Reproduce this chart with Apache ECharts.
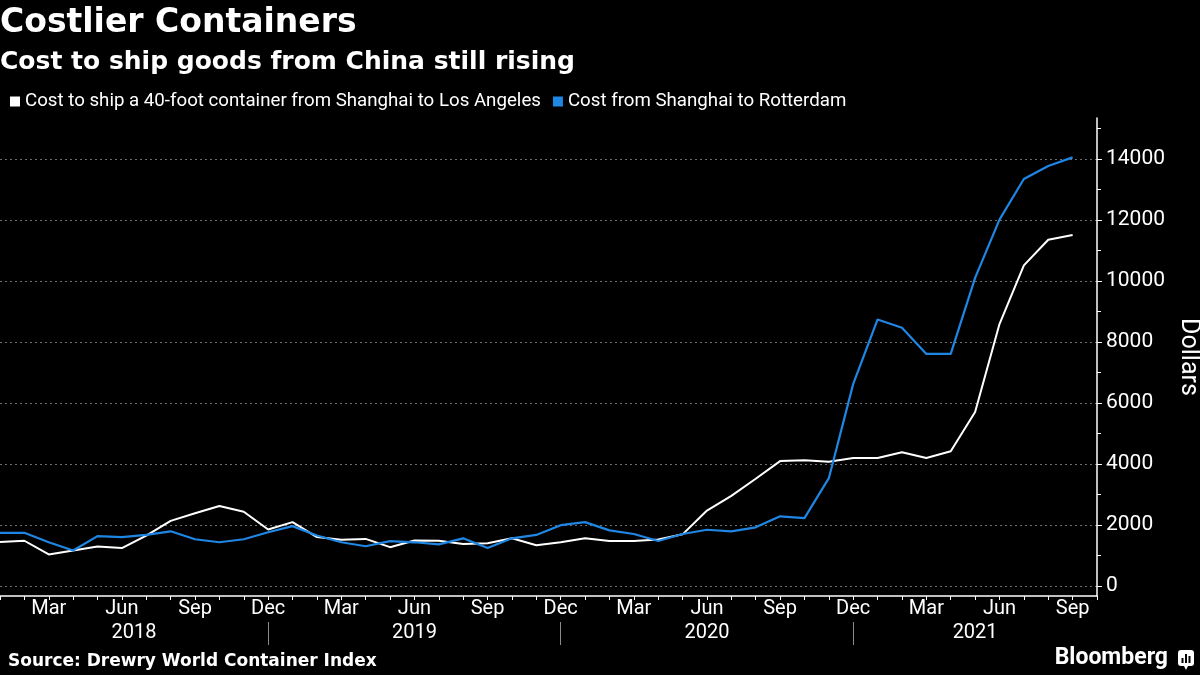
<!DOCTYPE html>
<html>
<head>
<meta charset="utf-8">
<script src="https://cdn.jsdelivr.net/npm/echarts@6/dist/echarts.min.js"></script>
<style>
  html, body { margin: 0; padding: 0; background: #000; }
  #chart { width: 1200px; height: 675px; }
</style>
</head>
<body>
<div id="chart"></div>
<script>
// ---- Data ----
const categories = [
  'Jan 2018','Feb 2018','Mar 2018','Apr 2018','May 2018','Jun 2018','Jul 2018','Aug 2018','Sep 2018','Oct 2018','Nov 2018','Dec 2018',
  'Jan 2019','Feb 2019','Mar 2019','Apr 2019','May 2019','Jun 2019','Jul 2019','Aug 2019','Sep 2019','Oct 2019','Nov 2019','Dec 2019',
  'Jan 2020','Feb 2020','Mar 2020','Apr 2020','May 2020','Jun 2020','Jul 2020','Aug 2020','Sep 2020','Oct 2020','Nov 2020','Dec 2020',
  'Jan 2021','Feb 2021','Mar 2021','Apr 2021','May 2021','Jun 2021','Jul 2021','Aug 2021','Sep 2021','Oct 2021'
];
const shanghaiLosAngeles = [
  1450, 1490, 1040, 1170, 1300, 1250, 1660, 2140, 2390, 2630, 2440, 1860,
  2100, 1610, 1520, 1550, 1280, 1500, 1490, 1380, 1410, 1570, 1340, 1440,
  1570, 1480, 1480, 1530, 1700, 2480, 2960, 3520, 4100, 4130, 4080, 4200,
  4200, 4390, 4200, 4420, 5710, 8590, 10510, 11350, 11510
];
const shanghaiRotterdam = [
  1750, 1750, 1440, 1170, 1640, 1610, 1680, 1800, 1540, 1440, 1540, 1770,
  1970, 1660, 1440, 1310, 1480, 1440, 1370, 1570, 1250, 1570, 1680, 2000,
  2100, 1830, 1710, 1480, 1710, 1850, 1800, 1930, 2290, 2230, 3540, 6630,
  8740, 8470, 7610, 7610, 10100, 12010, 13340, 13770, 14050
];
const yMajorTicks = [0, 2000, 4000, 6000, 8000, 10000, 12000, 14000];
const yMinorTicks = [1000, 3000, 5000, 7000, 9000, 11000, 13000, 15000];
const monthLabels = ['Mar', 'Jun', 'Sep', 'Dec'];
const yearLabelPositions = [5.5, 17, 29, 40];
const yearLabels = ['2018', '2019', '2020', '2021'];
const yearSeparators = [11, 23, 35];
const seriesNames = ['Cost to ship a 40-foot container from Shanghai to Los Angeles', 'Cost from Shanghai to Rotterdam'];

const chart = echarts.init(document.getElementById('chart'), null, { renderer: 'canvas' });
const white = '#ffffff';
const blue = '#1f86e3';
const font = 'Roboto';

chart.setOption({
  backgroundColor: '#000000',
  animation: false,
  title: [
    { text: 'Costlier Containers', left: 0, top: 7, padding: 0,
      textStyle: { color: white, fontFamily: 'DejaVu Sans', fontWeight: 'bold', fontSize: 33 } },
    { text: 'Cost to ship goods from China still rising', left: 0, top: 50, padding: 0,
      textStyle: { color: white, fontFamily: 'DejaVu Sans', fontWeight: 'bold', fontSize: 25 } },
    { text: 'Source: Drewry World Container Index', left: 8, top: 653, padding: 0,
      textStyle: { color: white, fontFamily: 'DejaVu Sans', fontWeight: 'bold', fontSize: 17 } }
  ],
  legend: {
    left: 10, top: 92, padding: 0, icon: 'rect', itemWidth: 10, itemHeight: 10, itemGap: 12,
    textStyle: { color: white, fontFamily: font, fontSize: 18.7 },
    data: seriesNames
  },
  grid: { left: 0, right: 103, top: 118, bottom: 79, containLabel: false, outerBoundsMode: 'none' },
  xAxis: [
    {
      type: 'category', data: categories, boundaryGap: false,
      axisLine: { onZero: false, lineStyle: { color: white, width: 1.5 } },
      axisTick: { interval: 0, length: 4, lineStyle: { color: white } },
      axisLabel: {
        interval: (i, v) => monthLabels.includes(v.slice(0, 3)),
        formatter: v => v.slice(0, 3),
        color: white, fontFamily: font, fontSize: 20, margin: 3
      },
      splitLine: { show: false }
    },
    {
      type: 'value', min: 0, max: 45, position: 'bottom', offset: 26,
      axisLine: { show: false, onZero: false },
      axisTick: { show: true, customValues: yearSeparators, length: 23, lineStyle: { color: '#8a8a8a' } },
      axisLabel: {
        customValues: yearLabelPositions,
        formatter: v => yearLabels[yearLabelPositions.indexOf(v)] || '',
        color: white, fontFamily: font, fontSize: 20, margin: 1
      },
      splitLine: { show: false }
    }
  ],
  yAxis: [
    {
      type: 'value', position: 'right', min: -320, max: 15340,
      name: 'Dollars', nameLocation: 'middle', nameRotate: -90, nameGap: 76,
      nameTextStyle: { color: white, fontFamily: font, fontSize: 25 },
      axisLine: { show: true, onZero: false, lineStyle: { color: white, width: 1.5 } },
      axisTick: { show: true, customValues: yMajorTicks, length: 5, lineStyle: { color: white } },
      axisLabel: { customValues: yMajorTicks, formatter: v => String(v), color: white, fontFamily: font, fontSize: 21, margin: 9 },
      splitLine: { show: true, lineStyle: { color: '#6e6e6e', type: [2, 3], width: 1 } }
    },
    {
      type: 'value', position: 'right', min: -320, max: 15340,
      axisLine: { show: false, onZero: false },
      axisTick: { show: true, customValues: yMinorTicks, length: 4, lineStyle: { color: white } },
      axisLabel: { show: false },
      splitLine: { show: false }
    }
  ],
  series: [
    {
      name: seriesNames[0], type: 'line', data: shanghaiLosAngeles,
      xAxisIndex: 0, yAxisIndex: 0, showSymbol: false, symbol: 'none',
      itemStyle: { color: white },
      lineStyle: { color: white, width: 2 }
    },
    {
      name: seriesNames[1], type: 'line', data: shanghaiRotterdam,
      xAxisIndex: 0, yAxisIndex: 0, showSymbol: false, symbol: 'none',
      itemStyle: { color: blue },
      lineStyle: { color: blue, width: 2.2 }
    }
  ],
  graphic: [
    { type: 'text', right: 32, top: 647,
      style: { text: 'Bloomberg', fill: white, font: 'bold 23px Roboto' } },
    { type: 'group', right: 6, top: 650, children: [
      { type: 'rect', shape: { x: 0, y: 0, width: 16, height: 16, r: 3 }, style: { fill: white } },
      { type: 'polygon', shape: { points: [[6, 16], [10, 16], [8, 20]] }, style: { fill: white } },
      { type: 'rect', shape: { x: 3.5, y: 8, width: 2, height: 5 }, style: { fill: '#000' } },
      { type: 'rect', shape: { x: 7, y: 4, width: 2, height: 9 }, style: { fill: '#000' } },
      { type: 'rect', shape: { x: 10.5, y: 6, width: 2, height: 7 }, style: { fill: '#000' } }
    ] }
  ]
});
</script>
</body>
</html>
